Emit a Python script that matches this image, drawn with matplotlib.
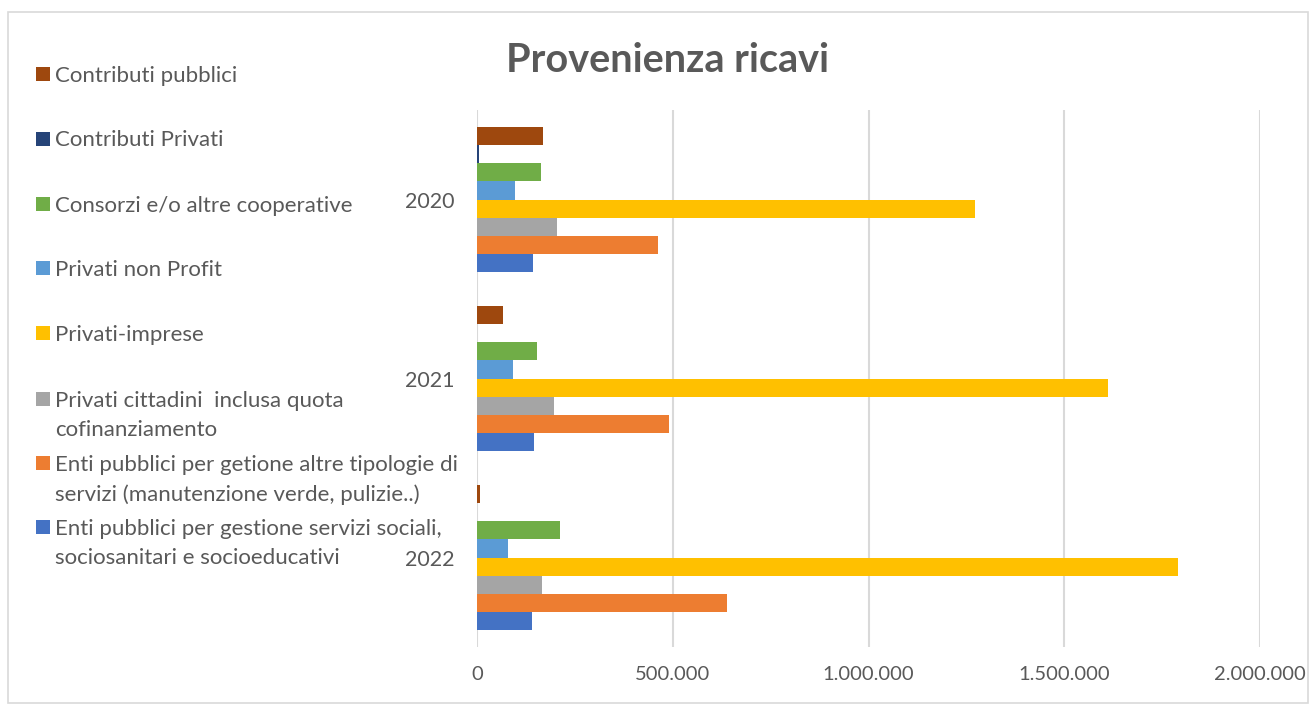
import matplotlib
matplotlib.use("Agg")
import matplotlib.pyplot as plt
from matplotlib.patches import Rectangle
from matplotlib.ticker import FuncFormatter, MultipleLocator

plt.rcParams["font.family"] = ["Lato", "DejaVu Sans"]

# Data
years = ["2020", "2021", "2022"]
series_labels = [
    "Enti pubblici per gestione servizi sociali,\nsociosanitari e socioeducativi",
    "Enti pubblici per getione altre tipologie di\nservizi (manutenzione verde, pulizie..)",
    "Privati cittadini  inclusa quota\ncofinanziamento",
    "Privati-imprese",
    "Privati non Profit",
    "Consorzi e/o altre cooperative",
    "Contributi Privati",
    "Contributi pubblici",
]
enti_sociali = [142000, 146000, 140500]
enti_altre = [462000, 490500, 638000]
privati_cittadini = [204500, 197000, 165500]
privati_imprese = [1273000, 1612000, 1790000]
privati_nonprofit = [96500, 93000, 78500]
consorzi = [163500, 154000, 211500]
contributi_privati = [4000, 0, 0]
contributi_pubblici = [168000, 67000, 7700]
series_values = [enti_sociali, enti_altre, privati_cittadini, privati_imprese,
                 privati_nonprofit, consorzi, contributi_privati, contributi_pubblici]
colors = ["#4472C4", "#ED7D31", "#A5A5A5", "#FFC000",
          "#5B9BD5", "#70AD47", "#264478", "#9E480E"]

W, H = 1315, 704
TXT = "#595959"

fig = plt.figure(figsize=(W / 100, H / 100), dpi=100)
ax = fig.add_axes([477 / W, 1 - 647 / H, (1260 - 477) / W, (647 - 110) / H])

bar_h = 0.101
n = len(series_values)
for i, (vals, col) in enumerate(zip(series_values, colors)):
    ypos = [k + (n / 2 - 0.5 - i) * bar_h for k in range(len(years))]
    ax.barh(ypos, vals, height=bar_h, color=col, zorder=3)

ax.set_xlim(0, 2000000)
ax.set_ylim(2.5, -0.5)
ax.xaxis.set_major_locator(MultipleLocator(500000))
ax.xaxis.set_major_formatter(FuncFormatter(lambda v, p: f"{int(v):,}".replace(",", ".")))
ax.grid(axis="x", color="#d9d9d9", linewidth=1.5, zorder=0)
ax.set_yticks(range(len(years)))
ax.set_yticklabels(years)
ax.tick_params(axis="y", length=0, pad=16, labelsize=15.5, labelcolor=TXT)
ax.tick_params(axis="x", length=0, pad=14, labelsize=14.5, labelcolor=TXT)
for s in ax.spines.values():
    s.set_visible(False)

fig.text(667 / W, 1 - 61 / H, "Provenienza ricavi", ha="center", va="center",
         fontsize=28.5, fontweight="bold", color=TXT)

# legend (top entry = last series), one text per line
legend_y = [74, 138.5, 203.5, 268, 333, 399, 463, 527]
line_gap = 29
for j, y in enumerate(legend_y):
    idx = n - 1 - j
    fig.patches.append(Rectangle((36 / W, 1 - (y + 7) / H), 14 / W, 14 / H,
                                 transform=fig.transFigure, facecolor=colors[idx],
                                 edgecolor="none"))
    for k, line in enumerate(series_labels[idx].split("\n")):
        fig.text(55 / W, 1 - (y - 8 + k * line_gap) / H, line, ha="left", va="top",
                 fontsize=16, color=TXT)

# chart border
fig.patches.append(Rectangle((8 / W, 1 - 703 / H), 1300 / W, 691 / H,
                             transform=fig.transFigure, facecolor="none",
                             edgecolor="#d9d9d9", linewidth=1.2))

fig.savefig("out.png", dpi=100)
